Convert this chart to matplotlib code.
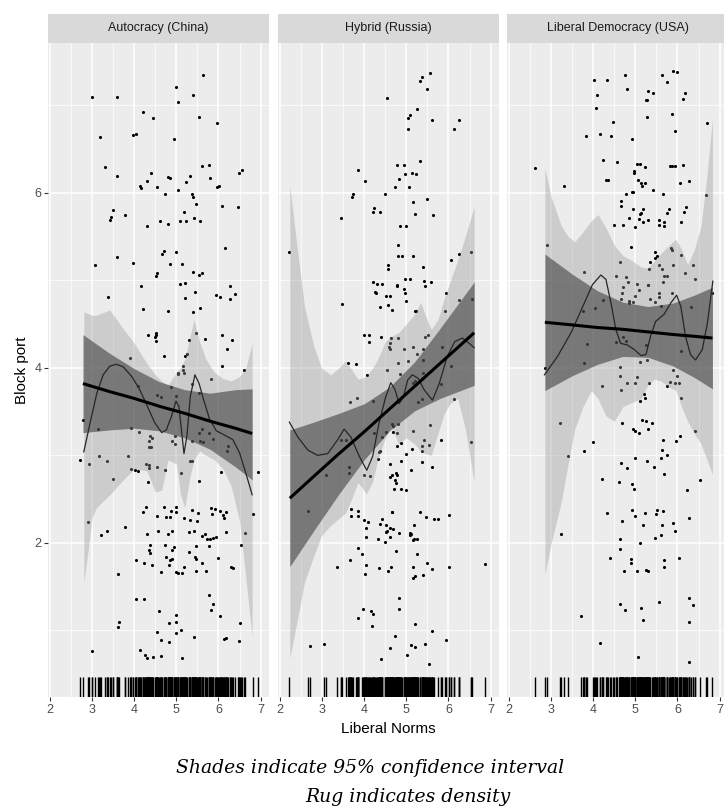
import matplotlib
matplotlib.use("Agg")
import matplotlib.pyplot as plt
from matplotlib.ticker import MultipleLocator

plt.rcParams['font.family'] = ['Liberation Sans', 'DejaVu Sans']

# ---- data (Liberal Norms vs Block port) ----
panels = ["Autocracy (China)", "Hybrid (Russia)", "Liberal Democracy (USA)"]

china_pts = [
    (3.00,7.09),(3.59,7.09),(3.18,6.64),(3.30,6.29),(3.59,6.19),(4.20,6.92),(4.44,6.85),(3.98,6.66),(4.03,6.67),
    (4.99,7.21),(5.04,7.04),(5.64,7.35),(5.40,7.12),(5.54,6.87),(5.97,6.80),(4.94,6.61),(5.60,6.30),(5.78,6.32),
    (6.48,6.22),(6.55,6.26),(4.39,6.22),(4.29,6.13),(4.13,6.08),(4.15,6.05),(4.53,6.06),(4.72,5.99),(4.81,6.18),
    (4.84,6.17),(5.05,6.03),(5.24,6.12),(5.33,6.19),(5.36,5.98),(5.40,5.95),(5.46,5.87),(5.81,6.17),(5.96,6.07),
    (6.01,6.08),(6.08,5.85),(6.47,5.84),(3.49,5.80),(3.44,5.72),(3.42,5.69),(3.77,5.75),(4.31,5.62),(4.61,5.68),
    (4.81,5.64),(5.09,5.68),(5.22,5.68),(5.19,5.78),(5.43,5.71),(5.56,5.68),(6.15,5.37),
    (3.60,5.26),(3.96,5.20),(4.66,5.30),(4.70,5.33),(5.00,5.32),(4.84,5.19),(5.13,5.19),(3.07,5.17),(4.55,5.08),
    (4.51,5.05),(5.40,5.10),(5.60,5.08),(5.53,5.06),(4.16,4.94),(5.09,4.96),(5.20,4.97),(6.27,4.94),(6.39,4.84),
    (5.45,4.87),(5.95,4.83),(6.03,4.81),(3.38,4.81),(5.21,4.80),(6.27,4.79),(5.57,4.68),(4.21,4.67),(4.80,4.65),
    (5.40,4.64),(4.51,4.40),(4.52,4.38),(4.50,4.35),(4.32,4.38),(5.47,4.40),(6.08,4.37),(6.32,4.32),(6.21,4.22),
    (5.68,4.33),(4.51,4.31),(5.31,4.32),(5.25,4.16),(5.20,4.13),(4.70,4.13),(6.60,3.98),(6.08,4.02),(5.16,4.02),
    (5.15,3.98),(5.17,3.94),(5.03,3.94),(5.05,3.93),(3.89,4.11),(4.88,3.78),(4.55,3.69),(4.64,3.67),(5.82,3.87),
    (5.54,3.71),(5.37,3.81),(4.08,3.79),(5.00,3.68),(4.30,3.61),(3.14,3.30),(3.92,3.31),(4.11,3.27),(5.60,3.30),
    (5.54,3.26),(5.78,3.26),(4.38,3.22),(4.43,3.20),(4.35,3.16),(4.96,3.22),(4.90,3.16),(4.97,3.13),(5.38,3.16),
    (5.55,3.16),(5.63,3.15),(5.87,3.19),(6.22,3.11),(6.21,3.05),(4.39,3.10),(4.36,3.09),(3.34,2.93),(3.84,2.99),
    (3.16,2.99),(2.93,2.90),(4.27,2.90),(4.35,2.89),(4.36,2.86),(4.53,2.87),(4.73,2.83),(4.09,2.82),(4.01,2.83),
    (3.93,2.84),(5.10,2.80),(5.33,2.93),(5.38,2.94),(3.50,2.73),(4.32,2.70),(5.54,2.71),(6.06,2.81),(6.95,2.81),
    (2.91,2.24),(3.22,2.09),(3.34,2.14),(3.77,2.18),(4.20,2.35),(4.27,2.41),(4.54,2.31),(4.71,2.41),(4.76,2.30),
    (4.85,2.30),(4.87,2.36),(5.00,2.35),(5.00,2.41),(5.38,2.38),(5.51,2.34),(5.83,2.40),(5.91,2.39),(6.03,2.37),
    (6.18,2.35),(5.84,2.33),(6.10,2.32),(6.14,2.29),(5.17,2.28),(5.32,2.26),(5.49,2.25),(4.29,2.10),(4.57,2.14),
    (4.80,2.10),(4.90,2.14),(5.30,2.13),(5.43,2.14),(5.61,2.08),(5.67,2.10),(5.73,2.05),(5.79,2.05),(5.87,2.06),
    (5.93,2.07),(6.17,2.12),(6.64,2.11),(6.81,2.33),(6.54,1.98),(4.38,1.98),(4.35,1.92),(4.38,1.88),(4.73,1.98),
    (4.94,1.95),(4.90,1.92),(5.29,1.90),(5.46,1.96),(5.45,1.84),(5.47,1.82),(5.77,1.96),(4.76,1.84),(4.85,1.81),
    (4.89,1.82),(4.04,1.80),(4.24,1.77),(4.42,1.75),(4.83,1.75),(4.64,1.67),(5.00,1.67),(5.04,1.66),(5.14,1.66),
    (5.19,1.73),(5.60,1.77),(5.46,1.68),(5.71,1.68),(5.99,1.83),(6.29,1.72),(6.34,1.71),(3.61,1.65),(4.03,1.36),
    (4.23,1.36),(5.77,1.40),(5.86,1.30),(5.83,1.23),(4.58,1.22),(6.04,1.17),(5.00,1.18),(4.83,1.09),(5.00,1.10),
    (5.12,1.00),(6.51,1.09),(3.64,1.10),(3.62,1.04),(4.54,0.98),(4.64,0.89),(4.82,0.87),(5.00,0.97),(5.42,0.92),
    (6.14,0.90),(6.19,0.91),(6.48,0.88),(4.14,0.78),(4.25,0.72),(4.29,0.68),(4.45,0.70),(4.64,0.71),(5.13,0.68),
    (3.00,0.76),(2.72,2.95),(2.78,3.40),
]

russia_pts = [
    (5.55,7.37),(5.37,7.32),(5.32,7.28),(5.50,7.18),(4.55,7.08),(5.26,6.96),(5.08,6.89),(5.03,6.85),(5.62,6.83),
    (6.26,6.83),(6.14,6.73),(5.04,6.73),(5.32,6.36),(4.78,6.32),(4.95,6.32),(3.85,6.26),(4.97,6.21),(5.14,6.23),
    (5.24,6.21),(4.83,6.16),(4.02,6.13),(4.73,6.07),(5.06,6.07),(4.48,5.98),(3.74,5.99),(3.70,5.95),(5.16,5.89),
    (5.50,5.93),(4.24,5.83),(4.20,5.78),(4.38,5.78),(5.20,5.76),(5.63,5.74),(3.45,5.71),(4.85,5.62),(4.98,5.62),
    (4.80,5.40),
    (2.20,5.32),(4.80,5.28),(4.90,5.28),(5.16,5.28),(4.57,5.18),(4.57,5.13),(5.40,5.15),(6.06,5.23),(6.26,5.30),
    (6.53,5.32),(4.21,4.98),(4.29,4.96),(4.42,4.96),(4.26,4.87),(4.27,4.85),(4.51,4.82),(4.61,4.82),(4.77,4.95),
    (4.78,4.93),(4.96,5.01),(5.09,5.02),(4.95,4.90),(4.96,4.86),(5.00,4.76),(5.43,4.99),(5.44,4.93),(5.59,4.98),
    (5.95,4.85),(4.57,4.72),(4.66,4.66),(4.37,4.70),(5.20,4.65),(5.23,4.65),(3.46,4.73),(5.91,4.65),(6.25,4.77),
    (6.56,4.79),(4.00,4.37),(4.10,4.37),(4.10,4.30),(4.40,4.35),(4.64,4.34),(4.61,4.28),(4.58,4.24),(4.61,4.21),
    (4.80,4.34),(4.94,4.21),(5.04,4.08),(4.80,4.05),(5.45,4.35),(5.52,4.37),(5.16,4.24),(5.40,4.22),(5.25,4.16),
    (5.40,4.09),(5.84,4.24),(6.06,4.02),(3.61,4.06),(3.80,4.04),(4.07,3.92),(4.53,3.97),(4.85,3.93),(5.40,3.94),
    (5.37,3.64),(5.27,3.61),(5.16,3.83),(5.20,3.85),(6.12,3.64),(5.83,3.81),(3.67,3.61),(3.82,3.65),(4.21,3.62),
    (4.65,3.36),(4.69,3.34),(4.79,3.36),(4.68,3.27),(4.77,3.25),(4.51,3.27),(4.42,3.21),(5.15,3.28),(5.56,3.35),
    (5.82,3.18),(5.42,3.17),(5.36,3.11),(5.53,3.12),(6.54,3.15),(4.78,3.11),(4.87,3.14),(5.13,3.07),(4.99,3.01),
    (4.36,3.04),(4.33,2.96),(4.38,3.05),(5.38,3.05),(5.38,2.92),(5.61,2.87),(4.87,2.94),(4.62,2.90),(4.62,2.75),
    (4.67,2.78),(4.75,2.80),(4.78,2.78),(4.74,2.72),(4.76,2.69),(5.11,2.83),(4.71,2.62),(4.87,2.62),(5.00,2.61),
    (3.63,2.87),(3.63,2.80),(3.09,2.77),(4.00,2.78),(4.13,2.76),(3.45,3.17),(3.56,3.17),(4.22,3.25),
    (2.66,2.36),(3.68,2.39),(3.68,2.31),(3.86,2.37),(3.86,2.31),(3.99,2.26),(4.08,2.24),(4.05,2.17),(4.05,2.07),
    (4.37,2.22),(4.43,2.27),(4.54,2.14),(4.52,2.12),(4.52,2.20),(4.61,2.17),(4.69,2.16),(4.65,2.35),(4.67,2.35),
    (4.32,2.04),(4.50,2.01),(4.61,2.07),(4.83,2.11),(5.09,2.11),(5.08,2.09),(5.10,2.10),(5.17,2.21),(5.17,2.04),
    (5.25,2.04),(5.15,2.03),(5.32,2.35),(5.47,2.30),(5.66,2.27),(5.75,2.27),(6.02,2.32),(4.75,1.91),(5.25,1.87),
    (3.86,1.94),(3.94,1.87),(3.67,1.81),(3.36,1.73),(4.04,1.75),(4.01,1.64),(4.35,1.71),(4.56,1.68),(4.63,1.72),
    (5.16,1.73),(5.15,1.60),(5.20,1.62),(5.39,1.63),(5.50,1.77),(5.61,1.70),(6.01,1.72),(6.87,1.76),(4.83,1.37),
    (4.83,1.25),(3.97,1.25),(4.16,1.22),(4.20,1.19),(3.86,1.14),(4.19,1.05),(5.21,1.07),(5.61,0.99),(4.73,0.94),
    (5.44,0.84),(5.11,0.83),(5.21,0.81),(5.93,0.89),(4.61,0.80),(5.02,0.72),(4.39,0.67),(5.53,0.62),(2.70,0.82),
    (3.04,0.85),
]

usa_pts = [
    (5.89,7.39),(5.98,7.38),(4.75,7.34),(5.63,7.34),(4.01,7.29),(4.32,7.29),(5.74,7.26),(4.80,7.18),(5.29,7.16),
    (5.41,7.14),(6.18,7.14),(6.14,7.07),(4.08,7.12),(5.25,7.06),(5.28,7.06),(4.07,6.97),(5.88,6.90),(5.28,6.86),
    (4.46,6.81),(6.71,6.80),(5.93,6.70),(3.82,6.65),(4.16,6.67),(4.41,6.65),(4.91,6.61),(2.61,6.28),(3.31,6.08),
    (4.24,6.37),(4.56,6.35),(5.04,6.33),(5.12,6.33),(5.22,6.29),(4.96,6.25),(4.96,6.22),(5.82,6.31),(5.86,6.31),
    (5.94,6.31),(6.14,6.32),(4.35,6.15),(4.29,6.14),(5.07,6.15),(5.13,6.11),(5.16,6.08),(5.22,6.11),(6.06,6.11),
    (6.27,6.13),(4.91,6.01),(4.95,6.01),(4.78,5.99),(5.43,6.03),(5.66,5.99),(6.68,5.97),(4.65,5.91),(4.65,5.85),
    (4.95,5.81),(5.18,5.81),(5.14,5.77),(5.11,5.76),(6.21,5.84),(6.16,5.78),(5.81,5.81),(5.76,5.77),(4.86,5.71),
    (5.09,5.70),(5.18,5.67),(5.30,5.69),(5.55,5.69),(5.67,5.67),(5.57,5.63),(5.67,5.62),(6.08,5.66),(4.49,5.63),
    (4.71,5.63),(4.99,5.61),(4.90,5.38),(5.85,5.37),
    (5.46,5.32),(5.51,5.28),(5.47,5.25),(5.35,5.21),(5.32,5.13),(5.57,5.17),(5.63,5.13),(5.67,5.05),(5.74,5.05),
    (5.66,4.98),(5.86,5.35),(6.08,5.29),(5.89,5.17),(6.38,5.17),(6.42,5.01),(6.18,5.08),(4.63,5.21),(4.54,5.05),
    (4.77,5.04),(4.83,4.98),(5.04,4.96),(5.29,4.95),(5.31,4.95),(3.77,5.10),(4.71,4.92),(4.68,4.85),(4.65,4.79),
    (4.84,4.76),(4.94,4.75),(4.86,4.74),(4.99,4.82),(5.08,4.89),(5.34,4.79),(5.47,4.75),(5.57,4.81),(5.62,4.71),
    (5.87,4.86),(5.56,4.85),(4.24,4.77),(4.03,4.68),(3.75,4.65),(6.31,4.69),(6.83,4.85),(3.86,4.27),(3.77,4.06),
    (4.54,4.29),(4.70,4.35),(4.78,4.31),(5.26,4.26),(5.28,4.09),(5.10,4.07),(6.09,4.19),(4.63,4.01),(4.63,3.91),
    (4.80,3.83),(4.67,3.75),(5.00,3.83),(5.03,3.89),(5.33,3.83),(5.21,3.70),(5.23,3.65),(5.12,3.62),(5.89,3.98),
    (5.98,3.91),(5.94,3.83),(6.04,3.83),(5.82,3.84),(5.74,3.79),(6.08,3.65),(4.20,3.79),(3.22,3.37),(4.69,3.37),
    (4.95,3.30),(4.99,3.28),(5.16,3.40),(5.25,3.39),(5.40,3.37),(5.29,3.30),(5.09,3.25),(6.41,3.28),(6.05,3.22),
    (5.96,3.16),(5.66,3.18),(4.00,3.15),(3.77,3.05),(3.40,2.99),(5.64,3.06),(5.75,3.00),(5.61,2.97),(4.99,2.97),
    (5.28,2.93),(5.45,2.87),(4.65,2.91),(4.80,2.85),(5.68,2.79),(4.20,2.73),(4.61,2.70),(4.91,2.67),(4.96,2.62),
    (6.23,2.61),(6.53,2.72),
    (4.33,2.34),(4.68,2.25),(4.93,2.38),(4.99,2.31),(5.22,2.34),(5.49,2.33),(5.52,2.38),(5.66,2.37),(5.18,2.20),
    (5.63,2.21),(5.89,2.23),(5.94,2.14),(5.60,2.09),(5.47,2.06),(6.27,2.29),(3.23,2.10),(4.63,2.04),(4.63,1.93),
    (5.11,2.00),(4.40,1.83),(4.90,1.82),(4.90,1.77),(4.73,1.68),(5.05,1.68),(5.26,1.69),(5.29,1.68),(5.69,1.80),
    (5.67,1.73),(6.04,1.83),(4.64,1.30),(4.75,1.23),(5.14,1.26),(5.18,1.12),(5.57,1.33),(6.27,1.37),(6.36,1.29),
    (6.28,1.10),(3.71,1.17),(4.17,0.86),(5.07,0.70),(6.28,0.64),(2.85,4.00),(2.90,5.40),
]

# linear fit (dark band)
lm_x = [
    [2.78, 3.4, 4.0, 4.6, 5.2, 5.8, 6.4, 6.8],
    [2.23, 2.8, 3.4, 4.0, 4.6, 5.2, 5.8, 6.61],
    [2.85, 3.5, 4.1, 4.7, 5.3, 5.9, 6.4, 6.83],
]
lm_y = [
    [3.82, 3.73, 3.65, 3.56, 3.48, 3.39, 3.31, 3.25],
    [2.51, 2.76, 3.02, 3.27, 3.53, 3.79, 4.05, 4.40],
    [4.52, 4.49, 4.46, 4.44, 4.41, 4.38, 4.36, 4.34],
]
lm_hi = [
    [4.38, 4.17, 3.99, 3.84, 3.75, 3.71, 3.75, 3.76],
    [3.29, 3.38, 3.48, 3.59, 3.78, 4.07, 4.45, 4.98],
    [5.30, 5.07, 4.88, 4.75, 4.70, 4.74, 4.83, 4.92],
]
lm_lo = [
    [3.26, 3.29, 3.31, 3.28, 3.20, 3.07, 2.87, 2.72],
    [1.73, 2.14, 2.56, 2.95, 3.28, 3.51, 3.65, 3.80],
    [3.74, 3.91, 4.04, 4.13, 4.12, 4.02, 3.89, 3.76],
]

# loess fit (thin line)
lo_x = [
    [2.80, 2.95, 3.11, 3.26, 3.42, 3.58, 3.74, 3.94, 4.13, 4.33, 4.49, 4.65, 4.76, 4.88, 4.99, 5.06,
     5.12, 5.18, 5.25, 5.33, 5.44, 5.54, 5.65, 5.79, 5.95, 6.15, 6.34, 6.50, 6.66, 6.80],
    [2.22, 2.42, 2.66, 2.89, 3.13, 3.37, 3.52, 3.68, 3.88, 4.06, 4.20, 4.35, 4.51, 4.63, 4.73, 4.83,
     4.93, 5.03, 5.14, 5.28, 5.42, 5.62, 5.78, 5.97, 6.15, 6.33, 6.49, 6.61],
    [2.84, 3.15, 3.47, 3.75, 3.98, 4.18, 4.30, 4.42, 4.54, 4.65, 4.81, 4.97, 5.13, 5.25, 5.36, 5.48,
     5.68, 5.84, 5.98, 6.08, 6.19, 6.31, 6.43, 6.59, 6.71, 6.84],
]
lo_y = [
    [3.04, 3.37, 3.71, 3.92, 4.02, 4.04, 4.01, 3.90, 3.75, 3.54, 3.37, 3.26, 3.29, 3.44, 3.62, 3.56,
     3.29, 3.02, 3.22, 3.67, 3.92, 3.82, 3.63, 3.41, 3.28, 3.23, 3.18, 3.03, 2.78, 2.55],
    [3.38, 3.21, 3.06, 3.00, 3.02, 3.18, 3.30, 3.21, 2.99, 2.83, 2.99, 3.37, 3.67, 3.83, 3.75, 3.59,
     3.67, 3.86, 3.92, 3.88, 3.75, 3.63, 3.82, 4.13, 4.30, 4.34, 4.28, 4.23],
    [3.92, 4.13, 4.40, 4.70, 4.95, 5.06, 5.01, 4.74, 4.43, 4.28, 4.26, 4.21, 4.14, 4.15, 4.36, 4.53,
     4.61, 4.74, 4.83, 4.70, 4.36, 4.15, 4.09, 4.21, 4.51, 4.99],
]

# loess confidence band (light band)
band_x = [
    [2.80, 2.90, 3.00, 3.10, 3.20, 3.42, 3.70, 4.00, 4.30, 4.50, 4.65, 4.80, 5.00, 5.10, 5.20, 5.32,
     5.42, 5.55, 5.70, 5.90, 6.10, 6.30, 6.50, 6.65, 6.80],
    [2.23, 2.40, 2.58, 2.80, 2.98, 3.20, 3.40, 3.55, 3.70, 3.85, 4.05, 4.20, 4.32, 4.50, 4.64, 4.81,
     5.00, 5.19, 5.34, 5.45, 5.59, 5.75, 5.90, 6.05, 6.22, 6.40, 6.61],
    [2.85, 3.00, 3.24, 3.40, 3.56, 3.75, 3.95, 4.11, 4.30, 4.50, 4.71, 4.90, 5.14, 5.29, 5.45, 5.61,
     5.80, 5.96, 6.10, 6.24, 6.40, 6.56, 6.70, 6.83],
]
band_hi = [
    [4.64, 4.62, 4.60, 4.60, 4.62, 4.66, 4.47, 4.28, 4.05, 3.92, 3.85, 3.80, 3.95, 4.00, 4.10, 4.35,
     4.55, 4.30, 4.10, 3.95, 3.88, 3.85, 3.90, 4.00, 4.28],
    [6.08, 5.40, 4.70, 4.25, 4.00, 3.92, 4.00, 4.08, 3.98, 3.87, 3.90, 4.00, 4.10, 4.30, 4.36, 4.40,
     4.50, 4.61, 4.75, 4.60, 4.44, 4.55, 4.79, 5.00, 5.23, 5.50, 5.84],
    [6.28, 5.95, 5.62, 5.50, 5.44, 5.55, 5.68, 5.75, 5.60, 5.40, 5.28, 5.23, 5.15, 5.14, 5.22, 5.31,
     5.40, 5.47, 5.35, 5.18, 5.35, 5.62, 6.20, 6.85],
]
band_lo = [
    [1.55, 1.90, 2.30, 2.40, 2.45, 2.55, 2.70, 2.85, 2.82, 2.58, 2.60, 2.95, 2.90, 2.55, 2.40, 2.75,
     2.95, 3.05, 3.00, 2.95, 2.85, 2.65, 2.25, 1.60, 0.92],
    [0.68, 1.10, 1.55, 1.85, 2.08, 2.20, 2.28, 2.34, 2.50, 2.69, 2.56, 2.70, 2.95, 3.20, 3.35, 3.13,
     3.20, 3.13, 3.05, 3.02, 3.00, 3.25, 3.48, 3.60, 3.65, 3.30, 2.69],
    [1.64, 2.00, 2.47, 2.90, 3.30, 3.55, 3.74, 3.65, 3.45, 3.39, 3.56, 3.60, 3.65, 3.80, 3.87, 3.85,
     3.78, 3.74, 3.55, 3.39, 3.25, 3.13, 2.95, 2.78],
]

all_pts = [china_pts, russia_pts, usa_pts]

x_ticks = [2, 3, 4, 5, 6, 7]
y_ticks = [2, 4, 6]
x_range = (1.95, 7.20)
y_range = (0.24, 7.71)

# ---- layout in pixels ----
W, H = 724, 807
fig = plt.figure(figsize=(W / 100, H / 100), dpi=100)
lefts = [48, 278, 507]
pw = 221
p_top, p_bot = 43, 697
strip_top = 14

for i in range(3):
    ax = fig.add_axes([lefts[i] / W, 1 - p_bot / H, pw / W, (p_bot - p_top) / H])
    ax.set_facecolor('#ececec')
    for s in ax.spines.values():
        s.set_visible(False)
    ax.set_xlim(*x_range)
    ax.set_ylim(*y_range)
    ax.xaxis.set_major_locator(MultipleLocator(1))
    ax.xaxis.set_minor_locator(MultipleLocator(0.5))
    ax.yaxis.set_major_locator(MultipleLocator(2))
    ax.yaxis.set_minor_locator(MultipleLocator(1))
    ax.grid(which='major', color='white', linewidth=1.1)
    ax.grid(which='minor', color='white', linewidth=0.5)
    ax.set_axisbelow(True)
    ax.set_xticks(x_ticks)
    ax.set_xticklabels([str(t) for t in x_ticks])
    ax.tick_params(axis='x', which='major', length=2.7, width=0.8, color='#333333',
                   labelsize=9, labelcolor='#4d4d4d', pad=2)
    ax.tick_params(which='minor', length=0)
    if i == 0:
        ax.set_yticks(y_ticks)
        ax.set_yticklabels([str(t) for t in y_ticks])
        ax.tick_params(axis='y', which='major', length=2.7, width=0.8, color='#333333',
                       labelsize=9, labelcolor='#4d4d4d', pad=2)
        ax.set_ylabel('Block port', fontsize=11, color='black', labelpad=4)
    else:
        ax.tick_params(axis='y', which='both', length=0, labelleft=False)

    xs = [p[0] for p in all_pts[i]]
    ys = [p[1] for p in all_pts[i]]
    ax.scatter(xs, ys, s=5, color='black', linewidths=0, zorder=2)

    # loess band, then lm band
    ax.fill_between(band_x[i], band_lo[i], band_hi[i], color='#9a9a9a', alpha=0.38,
                    linewidth=0, zorder=3)
    ax.fill_between(lm_x[i], lm_lo[i], lm_hi[i], color='#333333', alpha=0.55,
                    linewidth=0, zorder=4)
    ax.plot(lo_x[i], lo_y[i], color='#262626', linewidth=0.9, zorder=5)
    ax.plot(lm_x[i], lm_y[i], color='black', linewidth=2.2, zorder=6, solid_capstyle='butt')

    # rug
    ax.vlines(xs, 0, 0.03, transform=ax.get_xaxis_transform(), color='black',
              linewidth=1.0, zorder=7)

    # facet strip
    sax = fig.add_axes([lefts[i] / W, 1 - p_top / H, pw / W, (p_top - strip_top) / H])
    sax.set_facecolor('#d9d9d9')
    sax.set_xticks([])
    sax.set_yticks([])
    for s in sax.spines.values():
        s.set_visible(False)
    sax.text(0.5, 0.5, panels[i], ha='center', va='center', fontsize=9,
             color='#1a1a1a', transform=sax.transAxes)

fig.text(388 / W, 1 - 729 / H, 'Liberal Norms', ha='center', va='center', fontsize=11)

fig.text(370 / W, 1 - 768 / H, 'Shades indicate 95% confidence interval', ha='center',
         va='center', fontsize=13.5, style='italic', family='DejaVu Serif')
fig.text(408 / W, 1 - 797 / H, 'Rug indicates density', ha='center',
         va='center', fontsize=13.5, style='italic', family='DejaVu Serif')

fig.savefig('out.png', dpi=100)
